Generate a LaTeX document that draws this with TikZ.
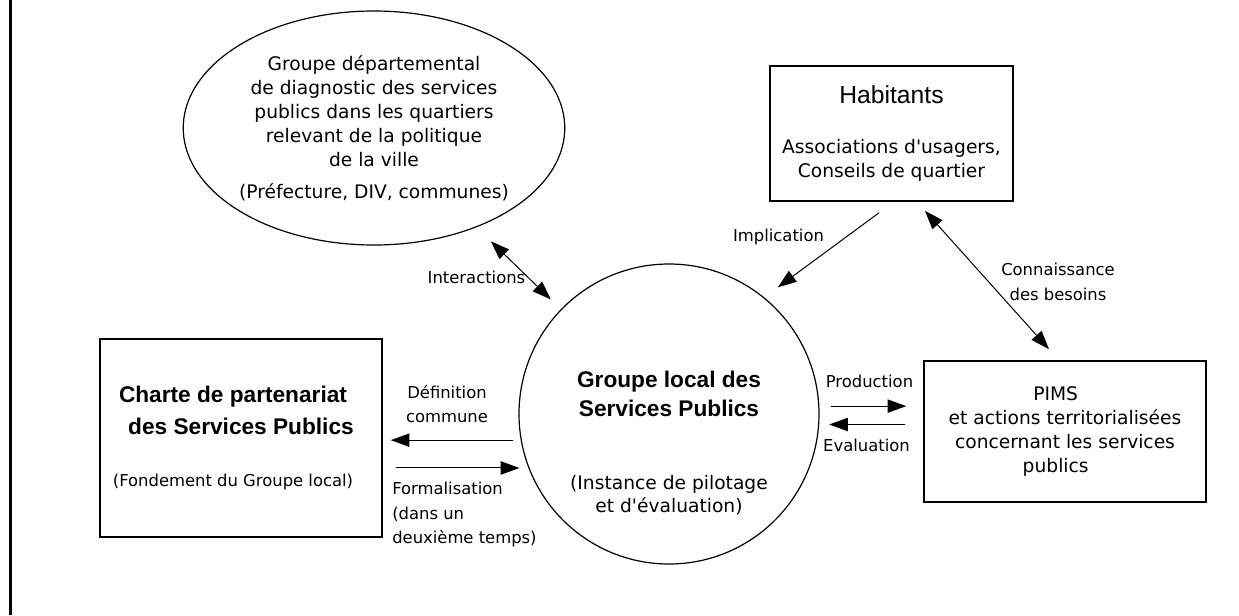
\documentclass[tikz,border=0pt]{standalone}
\usepackage{fontspec}
\setmainfont{DejaVu Sans}
\newfontfamily\arialfont{Liberation Sans}
\usetikzlibrary{shapes.geometric,arrows.meta,positioning}

\newcommand{\titrefont}{\arialfont\bfseries\fontsize{17}{24}\selectfont}
\newcommand{\grandfont}{\arialfont\fontsize{18.5}{22}\selectfont}

\tikzset{
  boxnode/.style={draw, line width=1.2pt, inner sep=0pt, align=center,
    font=\fontsize{14}{18}\selectfont},
  lbl/.style={align=center, inner sep=0pt, font=\fontsize{12.3}{18.4}\selectfont},
  arr/.style={line width=0.75pt, -{Triangle[length=14pt,width=10pt]}},
  dblarr/.style={line width=0.75pt,
    {Triangle[length=14pt,width=10pt]}-{Triangle[length=14pt,width=10pt]}},
}

\begin{document}
\begin{tikzpicture}[x=0.75pt, y=-0.75pt]
    \useasboundingbox (0,0) rectangle (1239,615);
    \draw [line width=2.25pt] (10.5,0) -- (10.5,615);

    % shapes
    \node [boxnode, ellipse, line width=0.9pt, minimum width=267pt, minimum height=175.5pt] (grpdep) at (374,128)
        {Groupe départemental\\de diagnostic des services\\publics dans les quartiers\\relevant de la politique\\de la ville\\[6pt](Préfecture, DIV, communes)};
    \node [boxnode, minimum width=182.25pt, minimum height=101.25pt] (habitants) at (891.5,133.5)
        {{\grandfont Habitants}\\[20pt]Associations d\textquotesingle usagers,\\Conseils de quartier};
    \node [boxnode, minimum width=211.5pt, minimum height=148.5pt] (charte) at (241,438)
        {{\titrefont Charte de partenariat\hspace*{12pt}}\\[6pt]{\titrefont des Services Publics\hspace*{12pt}}\\[21pt]{\fontsize{12.3}{18}\selectfont(Fondement du Groupe local)\hspace*{12pt}}};
    \node [boxnode, minimum width=211.5pt, minimum height=105.75pt] (pims) at (1065,431.5)
        {PIMS\hspace*{14pt}\\et actions territorialisées\hspace*{14pt}\\concernant les services\hspace*{14pt}\\publics\hspace*{14pt}};
    \node [draw, circle, line width=0.9pt, minimum size=225pt, inner sep=0pt] (glocal) at (669,414) {};
    \node [lbl, font=\fontsize{14}{17}\selectfont] (glocaltxt) at (669,443)
        {{\titrefont Groupe local des}\\[5pt]{\titrefont Services Publics}\\[38pt](Instance de pilotage\\et d\textquotesingle évaluation)};

    % connectors
    \draw [dblarr, shorten <=15pt, shorten >=10.5pt] (grpdep) -- (glocal);
    \draw [arr] ([shift={(-12.5,11)}]habitants.south) -- ([shift={(10,-13)}]glocal.49);
    \draw [dblarr] ([shift={(33.5,9)}]habitants.south) -- ([shift={(-16,-11)}]pims.north);
    \draw [arr] ([xshift=-6pt]glocal.190) -- ([xshift=6pt]charte.east |- glocal.190);
    \draw [arr] ([xshift=9.75pt]charte.east |- glocal.201) -- ([xshift=-6.75pt]glocal.201);
    \draw [arr] ([xshift=9pt]glocal.3) -- ([xshift=-12.75pt]pims.west |- glocal.3);
    \draw [arr] ([xshift=-14pt]pims.west |- glocal.356) -- ([xshift=7.5pt]glocal.356);

    % labels
    \node [lbl] (interlbl) at (476.5,277) {Interactions};
    \node [lbl] (impllbl) at (778.5,237) {Implication};
    \node [lbl] (connlbl) at (1058,282) {Connaissance\\des besoins};
    \node [lbl] (deflbl) at (447,404) {Définition\\commune};
    \node [lbl, align=left, anchor=north west] (formlbl) at (392,482) {Formalisation\\(dans un\\deuxième temps)};
    \node [lbl] (prodlbl) at (869.5,381) {Production};
    \node [lbl] (evallbl) at (866.5,445) {Evaluation};
\end{tikzpicture}
\end{document}
